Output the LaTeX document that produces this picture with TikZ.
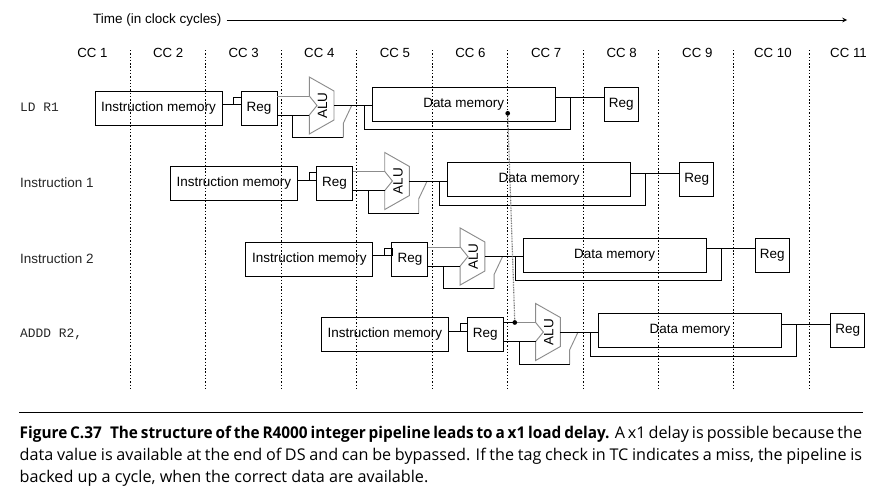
\documentclass[tikz,border=0pt]{standalone}
\usepackage{fontspec}
\setmainfont{Liberation Sans}
\setmonofont{Liberation Mono}
\newfontfamily\capfont[BoldFeatures={FakeStretch=0.95}]{Open Sans}
\usetikzlibrary{positioning,arrows}
\tikzset {
    unit box/.style={
        draw=black,
        line width=0.8pt,
        rectangle, % Set the shape as a rectangle
        inner sep=0pt,
        minimum height=1.02cm,
        align=center,
    },
    imem box/.style={unit box, minimum width=3.81cm},
    reg box/.style={unit box, minimum width=1.08cm},
    dmem box/.style={unit box, minimum width=5.49cm},
    wreg box/.style={unit box, minimum width=1.01cm},
    wire/.style={draw=black, line width=0.8pt},
    gray wire/.style={draw=black!45, line width=0.8pt},
    cycle line/.style={draw=black, line width=0.6pt, dash pattern=on 1.2pt off 1.6pt},
    bypass/.style={draw=black!55, line width=1pt, dash pattern=on 0.7pt off 0.7pt},
    row label/.style={anchor=west, text=black!85, inner sep=0pt},
    caption line/.style={anchor=base west, inner sep=0pt, font=\capfont\fontsize{13.8}{16}\selectfont},
}

\begin{document}
\begin{tikzpicture}
[x=0.03cm, y=-0.03cm, font=\fontsize{11.5}{13}\selectfont]
\useasboundingbox (0,0) rectangle (889,501);

\node[anchor=west, inner sep=0pt] at (93,20) (time) {Time (in clock cycles)};
\coordinate (tend) at (847,20);
\draw[wire, -stealth, shorten <=1.5mm] (time.east) -- (tend);

\foreach \k in {1,...,11}
    \node[font=\fontsize{11.3}{13}\selectfont] at ({92.5+75.6*(\k-1)},53) (cc\k) {CC \k};
\foreach \k in {1,...,10}
    \draw[cycle line] ({130+75.48*(\k-1)},50) -- ({130+75.48*(\k-1)},388);

\node[row label, font=\ttfamily\fontsize{11}{13}\selectfont] at (20,107) (ld) {LD R1};
\node[row label] at (20,183) (ins1) {Instruction 1};
\node[row label] at (20,259) (ins2) {Instruction 2};
\node[row label, font=\ttfamily\fontsize{11}{13}\selectfont] at (20,334) (addd) {ADDD R2,};

\foreach \r in {0,1,2,3} {
\begin{scope}[shift={(75.45*\r,75.5*\r)}]
\node[imem box] at (158.5,108) (im\r) {Instruction memory};
\node[reg box] at (259,108) (rg\r) {Reg};
\coordinate (tap\r) at (233.9,104.5);
\draw[wire] (im\r.east |- tap\r) -- (rg\r.west |- tap\r);
\draw[wire] (tap\r) rectangle ++(7.4,-7.4);
% ALU
\draw[gray wire] (309.3,77) -- (334,91) -- (334,120) -- (309.3,134) -- (309.3,115)
    -- (317,105.5) -- (309.3,96) -- cycle;
\node[rotate=90, inner sep=0pt] at (322.5,105.5) (alu\r) {ALU};
\coordinate (ina\r) at (309.3,96);
\coordinate (inb\r) at (309.3,115);
\coordinate (out\r) at (334,105.5);
\coordinate (fb\r) at (292.7,115);
\coordinate (fblow\r) at (343.3,137.7);
\coordinate (mux\r) at (343.3,123.3);
\coordinate (muxin\r) at (351.7,105.5);
\draw[gray wire] (rg\r.east |- ina\r) -- (ina\r);
\draw[wire] (rg\r.east |- inb\r) -- (inb\r);
\draw[wire] (fb\r) |- (fblow\r);
\draw[gray wire] (fblow\r) -- (mux\r) -- (muxin\r);
% data memory
\node[dmem box] at (463.7,104) (dm\r) {Data memory};
\draw[wire] (out\r) -- (dm\r.west |- out\r);
\coordinate (dfb\r) at (364.5,105.5);
\coordinate (dlow\r) at (570.5,129.5);
\coordinate (dout\r) at (570.5,97.5);
\draw[wire] (dfb\r) |- (dlow\r) -- (dout\r);
\node[wreg box] at (621.3,104) (wb\r) {Reg};
\draw[wire] (dm\r.east |- dout\r) -- (wb\r.west |- dout\r);
\end{scope}
}

\coordinate (byp1) at (507.7,113.3);
\coordinate (byp2) at (514.8,322.5);
\draw[bypass] (byp1) -- (byp2);
\draw[wire] (rg3.east |- ina3) -- (byp2);
\fill (byp1) circle (2pt);
\fill (byp2) circle (2pt);

\draw[line width=0.8pt] (19.3,412.7) -- (863.3,412.7);
\node[caption line] at (19.5,438) (cap1)
    {\makebox[25.27cm][s]{\textbf{Figure C.37\enspace The structure of the R4000 integer pipeline leads to a x1 load delay.} A x1 delay is possible because the}};
\node[caption line] at (19.5,460) (cap2)
    {\makebox[25.27cm][s]{data value is available at the end of DS and can be bypassed. If the tag check in TC indicates a miss, the pipeline is}};
\node[caption line] at (19.5,482) (cap3)
    {backed up a cycle, when the correct data are available.};
\end{tikzpicture}
\end{document}
